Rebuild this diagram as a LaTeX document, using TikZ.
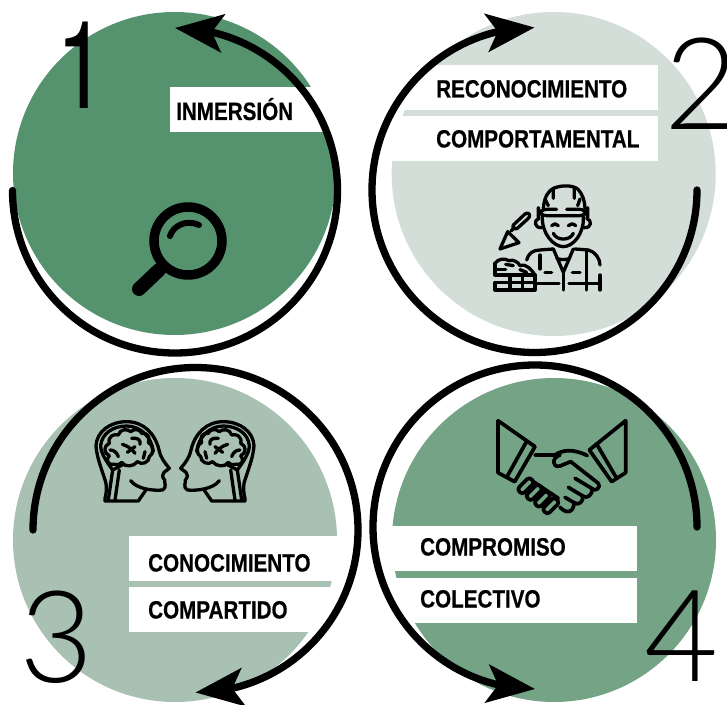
\documentclass[tikz,border=0pt]{standalone}
\usepackage{fontspec}
\usetikzlibrary{arrows.meta, bending}
\newfontfamily\labelfont[FakeStretch=0.825,FakeBold=0.5]{Liberation Sans}
\newfontfamily\numfont{Lato Light}
\newfontfamily\onefont[FakeStretch=0.75]{TeX Gyre Heros}
\definecolor{stepone}{HTML}{55936F}
\definecolor{steptwo}{HTML}{D3DED9}
\definecolor{stepthree}{HTML}{A8C1B3}
\definecolor{stepfour}{HTML}{75A386}

\begin{document}
\begin{tikzpicture}[x=1pt,y=1pt,
		cyclearc/.style = {line width=7.3pt,line cap=round,-{Stealth[length=48pt,width=38pt,inset=11pt]}},
		whitebox/.style = {fill=white},
		boxlabel/.style = {font=\labelfont\bfseries\fontsize{25}{25}\selectfont,anchor=base west,inner sep=0pt},
		stepnum/.style = {font=\numfont\fontsize{128}{128}\selectfont,anchor=base west,inner sep=0pt},
		icon/.style = {draw=black,line width=3.3pt,line cap=round,line join=round}]
		\useasboundingbox (0,0) rectangle (727,704);
		% circles
		\fill[stepone] (174.5,530.5) circle (161.5pt);
		\fill[steptwo] (553.7,530) circle (162pt);
		\fill[stepthree] (175,164) circle (162pt);
		\fill[stepfour] (554,164) circle (162pt);
		% white bands
		\fill[whitebox] (170,572) rectangle (335,617);
		\fill[whitebox] (400,594) rectangle (658,639);
		\fill[whitebox] (385,543) rectangle (658,588);
		\fill[whitebox] (129,123) rectangle (340,168);
		\fill[whitebox] (129,72) rectangle (340,117);
		\fill[whitebox] (385,133) rectangle (637,178);
		\fill[whitebox] (385,81) rectangle (637,126);
		% labels
		\node[boxlabel] (inmersion) at (176,584) {INMERSIÓN};
		\node[boxlabel] (reconocimiento) at (436,606.5) {RECONOCIMIENTO};
		\node[boxlabel] (comportamental) at (436,556.5) {COMPORTAMENTAL};
		\node[boxlabel] (conocimiento) at (148,132.5) {CONOCIMIENTO};
		\node[boxlabel] (compartido) at (148,85.5) {COMPARTIDO};
		\node[boxlabel] (compromiso) at (420,148.5) {COMPROMISO};
		\node[boxlabel] (colectivo) at (420,96.5) {COLECTIVO};
		% numbers
		\node[stepnum,font=\onefont\fontsize{122}{122}\selectfont] (one) at (56,595) {1};
		\node[stepnum] (two) at (664,574) {2};
		\node[stepnum] (three) at (19,22) {3};
		\node[stepnum] (four) at (644,23) {4};
		% magnifier
		\begin{scope}[shift={(0,704)},x=1pt,y=-1pt]
			\draw[line width=9.5pt] (188,241) circle (34pt);
			\draw[line width=14pt,line cap=round] (159,270) -- (139,289);
			\draw[line width=6pt,line cap=round] (170,236) .. controls (173,226) and (186,219) .. (199,225);
		\end{scope}
		% worker
		\begin{scope}[shift={(485,529)},x=0.3333pt,y=-0.3333pt]
			\draw[icon] (175,100) .. controls (178,65) and (190,48) .. (205,40) .. controls (235,28) and (265,32) .. (278,42) .. controls (292,55) and (300,80) .. (300,100);
			\draw[icon] (205,40) -- (205,70) (268,38) -- (268,70) (180,72) -- (190,92) (285,72) -- (278,92);
			\draw[icon,rounded corners=8pt] (215,103) -- (160,103) -- (160,122) -- (308,122) -- (308,103) -- (245,103);
			\draw[icon] (172,125) .. controls (170,175) and (205,215) .. (235,215) .. controls (265,215) and (298,175) .. (295,125);
			\draw[icon] (162,130) .. controls (145,135) and (148,160) .. (170,158) (305,130) .. controls (322,135) and (320,160) .. (298,158);
			\draw[icon] (200,152) .. controls (205,145) and (215,145) .. (220,152) (250,152) .. controls (255,145) and (265,145) .. (272,152);
			\draw[icon] (205,175) .. controls (215,198) and (255,198) .. (265,175);
			\draw[icon] (85,150) -- (120,117) .. controls (130,108) and (140,122) .. (130,130) -- (97,160) .. controls (90,165) and (80,158) .. (85,150);
			\draw[icon] (68,170) -- (45,222) -- (102,203) -- cycle;
			\draw[icon] (78,168) -- (88,158);
			\draw[icon] (125,255) .. controls (130,235) and (145,225) .. (165,225) -- (205,222) (270,222) -- (310,225) .. controls (330,230) and (345,250) .. (345,270);
			\draw[icon] (205,222) -- (235,292) -- (265,222) (215,250) .. controls (225,255) and (245,255) .. (255,250);
			\draw[icon] (235,292) -- (235,345) (165,240) -- (165,282) (305,228) -- (305,345) (345,300) -- (345,345);
			\draw[icon] (180,293) -- (200,293) (262,293) -- (285,293);
			\draw[icon] (155,325) -- (222,325) (252,325) -- (345,325);
			\draw[icon] (30,265) -- (30,300) -- (150,300) (30,283) -- (62,283) (46,322) -- (150,322);
			\draw[icon] (46,322) -- (30,322) -- (30,345) -- (150,345) -- (150,300);
			\draw[icon] (75,300) -- (75,345) (112,300) -- (112,345);
			\draw[icon] (30,265) .. controls (40,250) and (60,250) .. (72,257) .. controls (85,252) and (100,262) .. (105,272) .. controls (125,265) and (140,285) .. (150,300);
			\draw[icon] (62,268) -- (85,272) (105,284) -- (125,292);
		\end{scope}
		% heads
		\foreach \s in {1,-1}{
			\begin{scope}[shift={(175,289)},xscale=\s,x=0.3333pt,y=-0.3333pt,shift={(-255,0)}]
				\draw[icon] (45,258) .. controls (42,250) and (52,240) .. (48,205) .. controls (40,175) and (20,130) .. (18,92) .. controls (20,50) and (60,20) .. (110,20) .. controls (160,20) and (195,55) .. (207,105) .. controls (210,125) and (225,145) .. (238,160) -- (222,172) .. controls (216,178) and (216,186) .. (224,195) .. controls (222,200) and (232,218) .. (218,225) .. controls (190,228) and (140,222) .. (122,197);
				\draw[icon] (45,258) -- (145,258) -- (167,226);
				\draw[icon] (55,255) -- (68,165) .. controls (50,140) and (32,115) .. (32,92) .. controls (35,55) and (70,33) .. (110,33) .. controls (150,33) and (185,65) .. (190,110);
				\draw[icon] (75,255) -- (88,165);
				\draw[icon] (72,148) .. controls (55,152) and (45,135) .. (58,122) .. controls (40,115) and (40,92) .. (58,85) .. controls (52,65) and (72,55) .. (85,60) .. controls (90,42) and (112,40) .. (122,50) .. controls (135,38) and (152,45) .. (155,55) .. controls (172,52) and (182,68) .. (175,82) .. controls (192,90) and (192,118) .. (178,125) .. controls (178,142) and (155,152) .. (142,140) .. controls (132,155) and (105,158) .. (95,142) .. controls (88,150) and (80,150) .. (72,148) -- cycle;
				\draw[icon] (97,88) .. controls (110,92) and (125,100) .. (135,115) (112,112) -- (135,95) (125,70) .. controls (145,68) and (152,75) .. (150,88) (60,105) .. controls (72,105) and (80,112) .. (85,125) (165,110) -- (160,130);
				\draw[icon] (68,165) -- (100,148);
			\end{scope}
		}
		% handshake
		\begin{scope}[shift={(480,304)},x=0.3333pt,y=-0.3333pt,icon/.append style={line width=3.7pt}]
			\draw[icon] (54,62) -- (165,140) -- (104,245) -- (54,218) -- cycle;
			\draw[icon] (140,124) -- (80,232);
			\draw[icon] (437,62) -- (328,150) -- (395,245) -- (437,218) -- cycle;
			\draw[icon] (350,132) -- (410,235);
			\draw[icon] (165,165) -- (225,165) .. controls (245,150) and (280,145) .. (322,167);
			\draw[icon] (240,165) .. controls (215,172) and (215,205) .. (240,198) -- (272,185) -- (355,250) .. controls (365,262) and (345,278) .. (335,265) -- (285,235);
			\draw[icon] (335,265) .. controls (340,285) and (320,298) .. (308,288) -- (265,262);
			\draw[icon] (308,288) .. controls (312,305) and (295,318) .. (282,308) -- (255,292);
			\draw[icon] (282,308) .. controls (282,335) and (262,345) .. (240,322);
			\draw[icon] (160,245) -- (235,295);
			\foreach \d in {0,1,2,3}{
				\begin{scope}[shift={(25*\d,20*\d)}]
					\draw[icon,fill=stepfour] (117,262) -- (142,237) .. controls (150,229) and (166,245) .. (158,253) -- (133,278) .. controls (125,286) and (109,270) .. (117,262) -- cycle;
				\end{scope}
			}
		\end{scope}
		% arcs
		\coordinate (startone) at (12.5,513.5);
		\coordinate (starttwo) at (697,514);
		\coordinate (startthree) at (33,174);
		\coordinate (startfour) at (697,177);
		\draw[cyclearc] (startone) arc (180:450:162.5);
		\draw[cyclearc] (starttwo) arc (0:-270:162.5);
		\draw[cyclearc] (startthree) arc (180:-90:162.5);
		\draw[cyclearc] (startfour) arc (0:270:162);
	\end{tikzpicture}
\end{document}
